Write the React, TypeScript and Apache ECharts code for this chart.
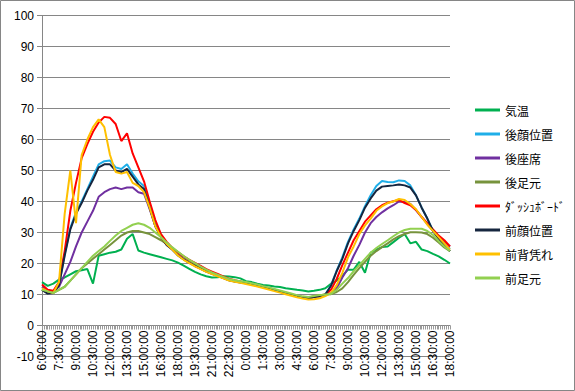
import React, { useEffect, useRef } from "react";
import * as echarts from "echarts";

const times = [
  "6:00:00", "6:30:00", "7:00:00", "7:30:00", "8:00:00", "8:30:00", "9:00:00", "9:30:00",
  "10:00:00", "10:30:00", "11:00:00", "11:30:00", "12:00:00", "12:30:00", "13:00:00", "13:30:00",
  "14:00:00", "14:30:00", "15:00:00", "15:30:00", "16:00:00", "16:30:00", "17:00:00", "17:30:00",
  "18:00:00", "18:30:00", "19:00:00", "19:30:00", "20:00:00", "20:30:00", "21:00:00", "21:30:00",
  "22:00:00", "22:30:00", "23:00:00", "23:30:00", "0:00:00", "0:30:00", "1:00:00", "1:30:00",
  "2:00:00", "2:30:00", "3:00:00", "3:30:00", "4:00:00", "4:30:00", "5:00:00", "5:30:00",
  "6:00:00", "6:30:00", "7:00:00", "7:30:00", "8:00:00", "8:30:00", "9:00:00", "9:30:00",
  "10:00:00", "10:30:00", "11:00:00", "11:30:00", "12:00:00", "12:30:00", "13:00:00", "13:30:00",
  "14:00:00", "14:30:00", "15:00:00", "15:30:00", "16:00:00", "16:30:00", "17:00:00", "17:30:00",
  "18:00:00",
];

const kion = [
  14, 12.8, 13.5, 14.8, 15.5, 16.5, 17.5, 17.8, 18.2, 13.5, 22.5, 23, 23.5, 23.8, 24.5, 28,
  29.5, 24.2, 23.5, 23, 22.5, 22, 21.5, 21, 20.3, 19.3, 18.3, 17.3, 16.5, 15.9, 15.5, 15.6,
  15.9, 15.8, 15.6, 15.2, 14.3, 14.0, 13.5, 13.1, 12.9, 12.6, 12.4, 12.0, 11.8, 11.5, 11.3, 11.0,
  11.2, 11.5, 12.0, 13.5, 14.5, 16, 18, 18, 20.5, 17, 23.5, 24.5, 25.3, 25.5, 26.9, 28.3,
  29.5, 26.5, 27, 24.5, 24, 23.1, 22.3, 21.2, 20,
];

const goKao = [
  12, 11, 11, 13, 23, 31.5, 36.5, 40, 44, 48, 52, 53, 53.2, 51, 50.5, 52,
  49, 46.5, 45, 38.5, 32.5, 28.8, 26.3, 24.6, 22.8, 21.4, 20.3, 19.3, 18.4, 17.5, 16.8, 16.1,
  15.4, 14.7, 14.3, 14.0, 13.7, 13.3, 12.9, 12.4, 12.0, 11.5, 11.0, 10.5, 10.0, 9.5, 9.1, 8.9,
  9.3, 9.5, 10, 13, 17.7, 22, 27, 31, 34.5, 38.5, 42, 45, 46.6, 46.3, 46.2, 46.8,
  46.6, 45.2, 42, 38, 34.5, 30.5, 28.2, 26.5, 24.7,
];

const goZaseki = [
  12.5, 11, 11, 12.5, 16.5, 20.5, 25.5, 30, 33.5, 37, 41.5, 43, 44, 44.5, 44, 44.5,
  44.5, 43, 42.5, 37.5, 32, 28.5, 26, 24.5, 22.8, 21.4, 20.3, 19.3, 18.4, 17.5, 16.8, 16.1,
  15.4, 14.7, 14.3, 14.0, 13.7, 13.3, 12.9, 12.4, 12.0, 11.5, 11.0, 10.5, 10.0, 9.5, 9.1, 8.9,
  9.2, 9.4, 9.8, 10.5, 12, 15.5, 18.5, 22.5, 26, 30, 33, 35, 36.5, 37.8, 38.8, 40,
  39.8, 39.2, 37.2, 35, 32.7, 30.5, 28.5, 27, 25.5,
];

const goAshimoto = [
  11.5, 10.5, 10.5, 11.5, 12.5, 14.5, 16.5, 18.5, 20, 21.5, 23, 24.5, 26, 27.5, 29, 30,
  30.5, 30.5, 30, 29.5, 28.5, 27.5, 26.3, 25, 23.7, 22.3, 21, 19.8, 18.7, 17.7, 16.9, 16.2,
  15.5, 14.8, 14.4, 14.1, 13.8, 13.4, 13.0, 12.5, 12.1, 11.6, 11.1, 10.6, 10.1, 9.6, 9.2, 9.0,
  9.5, 9.8, 10, 10.1, 10.8, 12, 14, 16.3, 18.5, 20.5, 22.5, 24, 25.3, 26.5, 27.8, 28.8,
  29.5, 30.1, 30.1, 30, 29.5, 28.3, 26.8, 25.2, 24,
];

const dashboard = [
  13.2, 11.5, 11.2, 14, 24, 37, 46, 54, 58.5, 62.5, 65.5, 67.3, 67, 65, 59.5, 62,
  55.5, 51, 46.5, 40, 34, 29.5, 27, 25, 23.5, 22.3, 21.2, 20.2, 19.2, 18.2, 17.4, 16.6,
  15.8, 15.1, 14.6, 14.2, 13.8, 13.4, 13.0, 12.5, 12.0, 11.5, 11.0, 10.5, 10.0, 9.5, 9.1, 8.9,
  9.3, 9.5, 10, 11.5, 15, 19.5, 23.5, 27.5, 30.5, 33.5, 35.5, 37.5, 38.8, 39.6, 40.1, 40.5,
  39.5, 38.8, 37.3, 35, 33, 31, 29, 27.5, 25.5,
];

const maeKao = [
  11.5, 10.3, 10.5, 13, 22.5, 31, 36, 39.5, 43.5, 47, 51, 52, 52, 50, 49.5, 50.5,
  48, 45.5, 44, 38, 32, 28.5, 26, 24.5, 22.6, 21.3, 20.2, 19.2, 18.3, 17.4, 16.7, 16.0,
  15.3, 14.6, 14.2, 13.9, 13.6, 13.2, 12.8, 12.3, 11.9, 11.4, 10.9, 10.4, 9.9, 9.4, 9.0, 8.8,
  9.2, 9.4, 10, 12.8, 17.5, 21.5, 26.5, 30.5, 34, 38, 41, 43.5, 44.8, 45, 45.2, 45.5,
  45.2, 44.5, 42, 38, 34.5, 30.5, 28, 26, 24,
];

const maeSemotare = [
  12, 11, 10.5, 14, 36, 50, 33, 55, 60, 64, 66.5, 64, 55, 49.5, 49, 49.5,
  46, 45, 43, 38, 32, 28.5, 26.3, 24.5, 22.6, 21.2, 20.1, 19.1, 18.2, 17.3, 16.6, 15.9,
  15.2, 14.5, 14.1, 13.8, 13.4, 13.0, 12.6, 12.1, 11.6, 11.1, 10.6, 10.1, 9.6, 9.1, 8.7, 8.4,
  8.5, 8.8, 9.5, 10.5, 13, 17, 22, 25.5, 29.5, 32.3, 34.5, 37, 38.4, 39.5, 40, 40.8,
  40.5, 39.2, 37.5, 35, 32.5, 30.5, 28.5, 26.5, 24.5,
];

const maeAshimoto = [
  11.5, 11, 10.5, 11.5, 12.5, 14.5, 16.5, 18.5, 20.5, 22.5, 24, 25.5, 27.3, 29, 30.5, 31.5,
  32.5, 33, 32.5, 31.5, 30, 28.5, 26.8, 25.2, 23.8, 22.4, 21.2, 20.1, 19.0, 18.0, 17.1, 16.4,
  15.7, 15.0, 14.6, 14.3, 14.0, 13.6, 13.2, 12.7, 12.3, 11.8, 11.3, 10.8, 10.3, 9.8, 9.4, 9.2,
  9.5, 9.8, 10, 10.2, 11.5, 13.5, 15.3, 17.5, 19.5, 21.5, 23.5, 25, 26.3, 27.5, 28.8, 30,
  30.8, 31.2, 31.2, 31.2, 30.5, 29.2, 27.2, 25.5, 24,
];

const seriesNames = ["気温", "後顔位置", "後座席", "後足元", "ﾀﾞｯｼｭﾎﾞｰﾄﾞ", "前顔位置", "前背凭れ", "前足元"];
const seriesData = [kion, goKao, goZaseki, goAshimoto, dashboard, maeKao, maeSemotare, maeAshimoto];
const seriesColors = ["#00B050", "#1FAEE8", "#7030A0", "#77933C", "#FF0000", "#16263F", "#FFC000", "#92D050"];

const yMin = -10;
const yMax = 100;
const yStep = 10;
// minor tick slots (10-minute marks across the 36-hour span)
const minorTickSlots: string[] = new Array(217).fill("");

export default function App() {
  const ref = useRef<HTMLDivElement>(null);
  useEffect(() => {
    if (!ref.current) return;
    const chart = echarts.init(ref.current, null, { renderer: "svg" });
    // x axis sits at y = 0; distance from grid bottom (-10) to 0 in pixels
    const gridTop = 15.5;
    const gridBottom = 34.5;
    const plotH = 391 - gridTop - gridBottom;
    const zeroOffset = -((0 - yMin) / (yMax - yMin)) * plotH;
    chart.setOption({
      animation: false,
      backgroundColor: "#ffffff",
      graphic: [
        {
          type: "rect",
          silent: true,
          shape: { x: 0.5, y: 0.5, width: 574, height: 390 },
          style: { fill: "none", stroke: "#868686", lineWidth: 1 },
        },
      ],
      grid: {
        left: 42,
        right: 125,
        top: gridTop,
        bottom: gridBottom,
        containLabel: false,
        outerBoundsMode: "none",
      },
      legend: {
        orient: "vertical",
        left: 470,
        top: 99,
        itemWidth: 25,
        itemHeight: 3,
        itemGap: 12,
        icon: "rect",
        textStyle: { fontSize: 12, fontFamily: "Noto Sans CJK JP", color: "#000" },
        data: seriesNames,
      },
      xAxis: [
        {
          type: "category",
          data: times,
          position: "bottom",
          offset: zeroOffset,
          boundaryGap: false,
          axisLine: { onZero: false, lineStyle: { color: "#868686", width: 1 } },
          axisTick: { show: false },
          axisLabel: {
            interval: 2,
            rotate: 90,
            fontSize: 12,
            fontFamily: "Liberation Sans",
            color: "#000",
            margin: 5,
          },
          splitLine: { show: false },
        },
        {
          type: "category",
          position: "bottom",
          offset: zeroOffset,
          data: minorTickSlots,
          boundaryGap: false,
          axisLine: { show: false, onZero: false },
          axisTick: { show: true, interval: 0, length: 4, lineStyle: { color: "#9a9a9a" } },
          axisLabel: { show: false },
          splitLine: { show: false },
        },
      ],
      yAxis: {
        type: "value",
        min: yMin,
        max: yMax,
        interval: yStep,
        axisLine: { show: true, lineStyle: { color: "#868686" } },
        axisTick: { show: true, length: 5, lineStyle: { color: "#868686" } },
        axisLabel: { fontSize: 12, fontFamily: "Liberation Sans", color: "#000", margin: 8 },
        splitLine: { show: true, lineStyle: { color: "#868686", width: 1 } },
      },
      series: seriesNames.map((name, i) => ({
        name,
        type: "line",
        xAxisIndex: 0,
        data: seriesData[i],
        showSymbol: false,
        symbol: "none",
        color: seriesColors[i],
        lineStyle: { width: 2, color: seriesColors[i] },
        z: 2 + i,
      })),
    });
    return () => chart.dispose();
  }, []);
  return (
    <div
      ref={ref}
      style={{ position: "fixed", left: 0, top: 0, width: 575, height: 391, background: "#fff" }}
    />
  );
}
